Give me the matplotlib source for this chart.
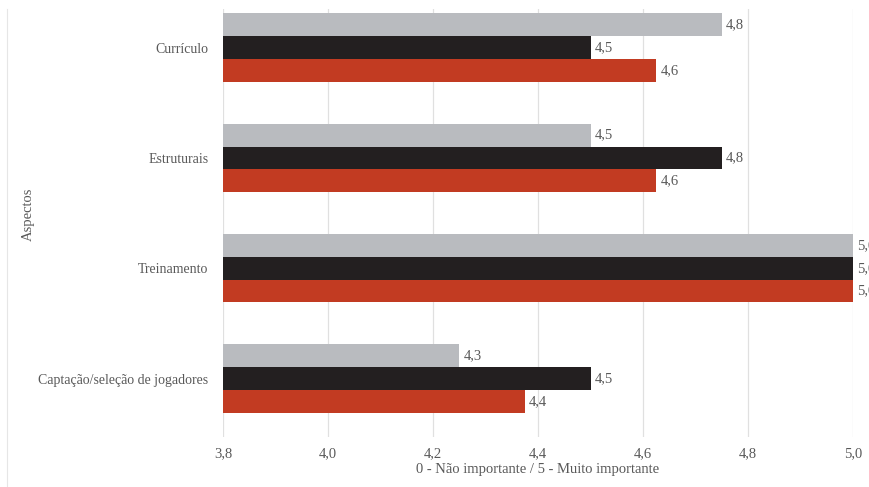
import numpy as np
import matplotlib.pyplot as plt
from matplotlib.lines import Line2D

categories = ["Currículo", "Estruturais", "Treinamento", "Captação/seleção de jogadores"]
serie_cinza = [4.75, 4.5, 5.0, 4.25]
serie_preta = [4.5, 4.75, 5.0, 4.5]
serie_vermelha = [4.625, 4.625, 5.0, 4.375]
xticks = [3.8, 4.0, 4.2, 4.4, 4.6, 4.8, 5.0]

plt.rcParams["font.family"] = ["Liberation Serif", "DejaVu Serif"]
TXT = "#595959"
FS = 10


def fmt(v):
    # arredonda para cima no meio, como no original (4,25 -> 4,3)
    return f"{np.floor(v * 10 + 0.5 + 1e-9) / 10:.1f}".replace(".", ",")


fig = plt.figure(figsize=(8.69, 4.87), dpi=100)
ax = fig.add_axes([223 / 869, 1 - 437 / 487, 630 / 869, 428 / 487])

y = np.arange(len(categories))
h = 0.207
series = [
    (serie_cinza, "#B9BBBF", -h),
    (serie_preta, "#231F20", 0),
    (serie_vermelha, "#C23B22", h),
]
for vals, col, off in series:
    ax.barh(y + off, np.array(vals) - 3.8, left=3.8, height=h, color=col, zorder=3)
    for yi, v in zip(y + off, vals):
        ax.text(v + 0.008, yi, fmt(v), va="center", ha="left",
                fontsize=FS + 0.5, color=TXT, clip_on=False)

ax.set_xlim(3.8, 5.0)
ax.set_ylim(3.53, -0.35)
ax.set_xticks(xticks)
ax.set_xticklabels([fmt(t) for t in xticks], fontsize=FS + 0.5, color=TXT)
ax.set_yticks(y)
ax.set_yticklabels(categories, fontsize=FS, color=TXT)
ax.tick_params(axis="x", length=0, pad=7)
ax.tick_params(axis="y", length=0, pad=10.5)
ax.grid(axis="x", color="#E0E0E0", linewidth=0.9, zorder=0)
for s in ax.spines.values():
    s.set_visible(False)

ax.set_xlabel("0 - Não importante / 5 - Muito importante", fontsize=FS + 0.5, color=TXT, labelpad=2)
ax.set_ylabel("Aspectos", fontsize=FS + 0.5, color=TXT)
ax.yaxis.set_label_coords(-188 / 630, 0.521)

fig.add_artist(Line2D([7 / 869, 7 / 869], [0, 1 - 9 / 487], color="#E6E6E6",
                      linewidth=0.8, transform=fig.transFigure))

fig.savefig("out.png", dpi=100)
